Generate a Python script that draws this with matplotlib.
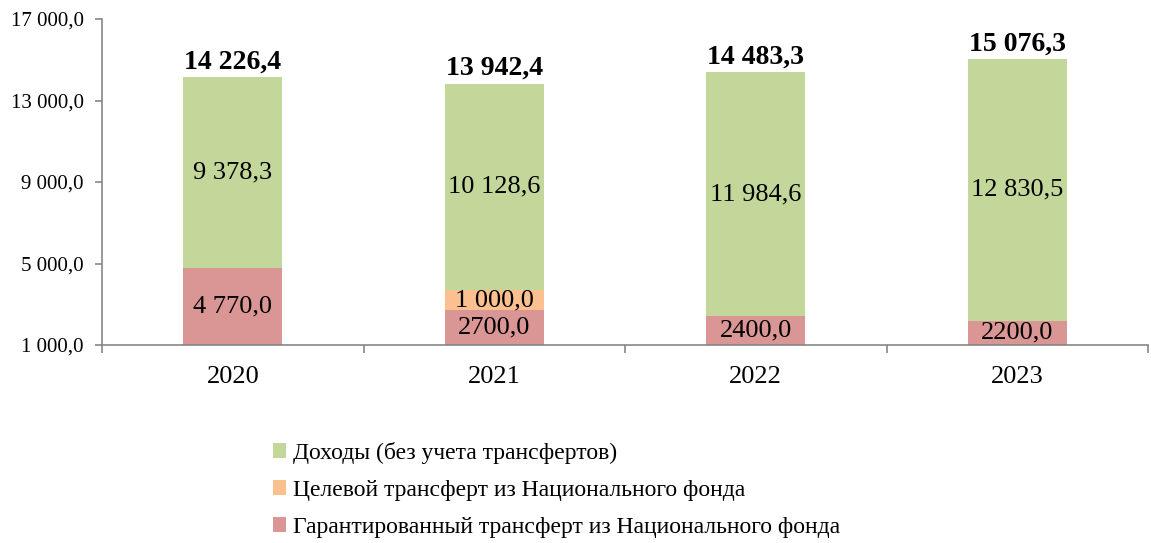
import matplotlib
matplotlib.use("Agg")
import matplotlib.pyplot as plt
from matplotlib.ticker import FuncFormatter, FixedLocator
import numpy as np

plt.rcParams['font.family'] = ['Liberation Serif', 'DejaVu Serif']

years = ["2020", "2021", "2022", "2023"]
guaranteed = [4770.0, 2700.0, 2400.0, 2200.0]
targeted = [0.0, 1000.0, 0.0, 0.0]
income = [9378.3, 10128.6, 11984.6, 12830.5]
totals = [14226.4, 13942.4, 14483.3, 15076.3]
guaranteed_labels = ["4 770,0", "2700,0", "2400,0", "2200,0"]

series_names = ["Доходы (без учета трансфертов)",
                "Целевой трансферт из Национального фонда",
                "Гарантированный трансферт из Национального фонда"]
colors = {"income": "#C4D79B", "targeted": "#FAC090", "guaranteed": "#D99694"}
axis_color = "#868686"

def fmt_num(v):
    s = f"{v:,.1f}"
    return s.replace(",", " ").replace(".", ",")

fig = plt.figure(figsize=(11.51, 5.43), dpi=100)
ax = fig.add_axes([102/1151, 1-345/543, (1148-102)/1151, (345-19)/543])

ymin, ymax = 1000, 17000
x = np.arange(len(years))
w = 0.38

g = np.array(guaranteed)
t = np.array(targeted)
inc = np.array(income)

b1 = ax.bar(x, g, w, color=colors["guaranteed"], zorder=2)
b2 = ax.bar(x, t, w, bottom=g, color=colors["targeted"], zorder=2)
b3 = ax.bar(x, inc, w, bottom=g + t, color=colors["income"], zorder=2)

ax.set_ylim(ymin, ymax)
ax.set_xlim(-0.5, len(years) - 0.5)

fs_lab = 19
for i in range(len(years)):
    lo, hi = max(0, ymin), g[i]
    ax.text(x[i], (lo + hi) / 2, guaranteed_labels[i], ha="center", va="center", fontsize=fs_lab)
    if t[i] > 0:
        ax.text(x[i], g[i] + t[i] / 2, fmt_num(t[i]), ha="center", va="center", fontsize=fs_lab)
    lo = g[i] + t[i]
    ax.text(x[i], lo + inc[i] / 2, fmt_num(inc[i]), ha="center", va="center", fontsize=fs_lab)
    top = g[i] + t[i] + inc[i]
    ax.annotate(fmt_num(totals[i]), (x[i], top), xytext=(0, 2), textcoords="offset points",
                ha="center", va="bottom", fontsize=20, fontweight="bold")

ax.yaxis.set_major_locator(FixedLocator([1000, 5000, 9000, 13000, 17000]))
ax.yaxis.set_major_formatter(FuncFormatter(lambda v, p: fmt_num(v)))
ax.set_xticks(x)
ax.set_xticklabels(years, fontsize=19)
ax.set_xticks(np.arange(-0.5, len(years)), minor=True)
ax.tick_params(axis="x", which="major", length=0, pad=15)
ax.tick_params(axis="x", which="minor", length=6, color=axis_color, width=1.2)
ax.tick_params(axis="y", length=5, color=axis_color, width=1.2, labelsize=15, pad=8)

for s in ["top", "right"]:
    ax.spines[s].set_visible(False)
for s in ["left", "bottom"]:
    ax.spines[s].set_color(axis_color)
    ax.spines[s].set_linewidth(1.2)

handles = [b3, b2, b1]
leg = fig.legend(handles, series_names, loc="upper left", bbox_to_anchor=(261/1151, 1-430/543),
                 frameon=False, fontsize=17, handlelength=0.55, handleheight=0.55,
                 handletextpad=0.3, labelspacing=0.68, borderpad=0)

fig.savefig("out.png", dpi=100)
